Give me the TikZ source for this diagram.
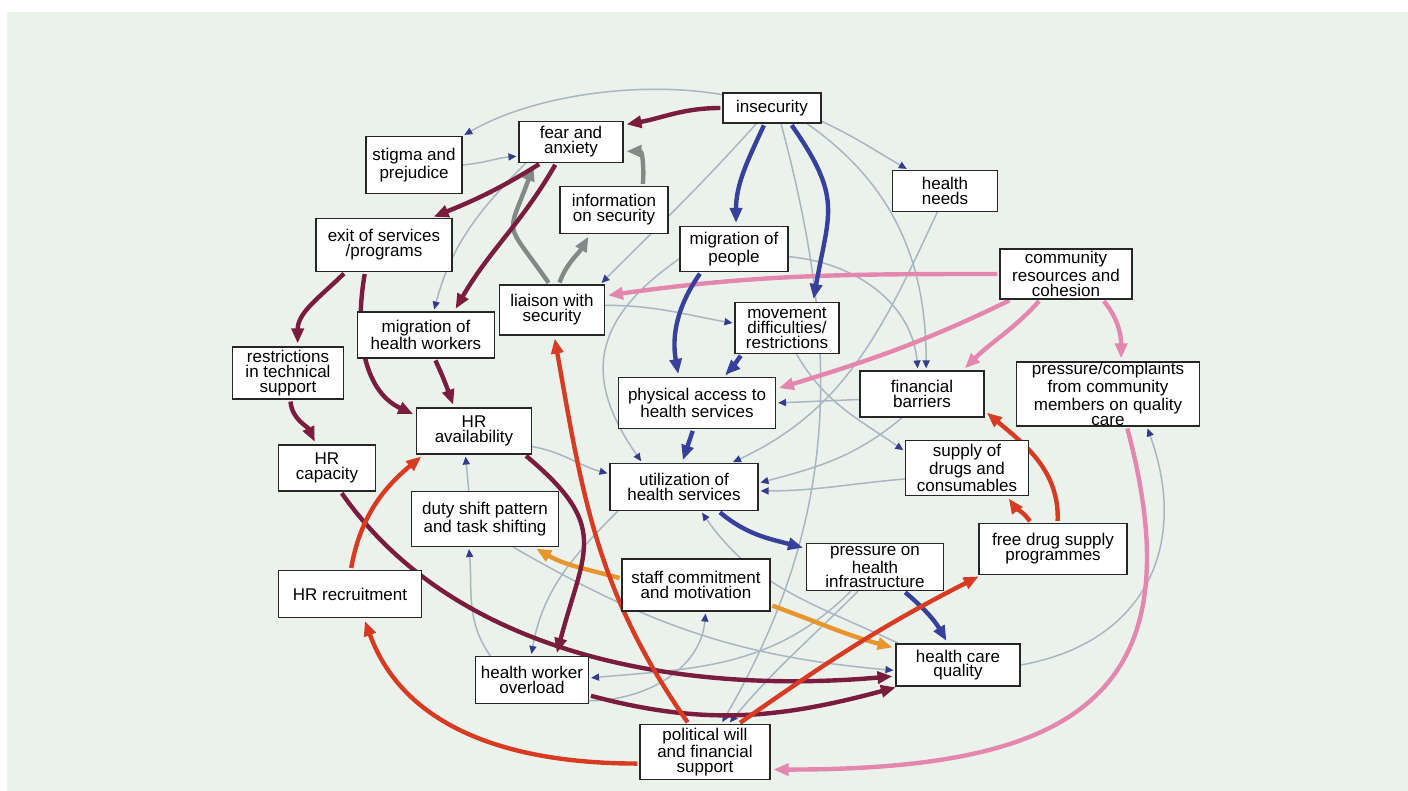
\documentclass[tikz,border=0pt]{standalone}
\usepackage{fontspec}
\setmainfont{Liberation Sans}
\usetikzlibrary{arrows.meta}
\definecolor{bggreen}{RGB}{235,242,236}
\definecolor{linkmaroon}{RGB}{122,28,62}
\definecolor{linkblue}{RGB}{55,65,155}
\definecolor{linkgray}{RGB}{128,138,134}
\definecolor{linkpink}{RGB}{228,135,175}
\definecolor{linkred}{RGB}{215,60,35}
\definecolor{linkorange}{RGB}{230,150,45}
\definecolor{linkthin}{RGB}{168,182,195}
\definecolor{linktip}{RGB}{50,60,140}

\pgfdeclarelayer{links}
\pgfsetlayers{links,main}

\tikzset{
  box/.style 2 args={draw=black!85, fill=white, line width=0.55pt, align=center,
    inner sep=0pt, minimum width=#1*0.5pt, minimum height=#2*0.5pt,
    font=\fontsize{8.5}{7.4}\selectfont},
  boldlink/.style={line width=2.2pt, shorten >=1.5pt, shorten <=1pt,
    -{Triangle[length=7.5pt,width=6pt]}},
  maroonlink/.style={boldlink, draw=linkmaroon},
  bluelink/.style={boldlink, draw=linkblue},
  graylink/.style={boldlink, draw=linkgray},
  pinklink/.style={boldlink, draw=linkpink},
  redlink/.style={boldlink, draw=linkred},
  orangelink/.style={boldlink, draw=linkorange},
  thinlink/.style={line width=0.75pt, draw=linkthin, shorten >=1pt,
    -{Triangle[length=4pt,width=3.5pt,color=linktip]}}
}

\begin{document}
\begin{tikzpicture}[x=0.5pt,y=-0.5pt]

\useasboundingbox (0,0) rectangle (1408,791);

% Factors
\node[box={98}{30}] (insec) at (772,108) {insecurity};
\node[box={104}{41}] (fear) at (571,142) {fear and\\anxiety};
\node[box={96}{57}] (stigma) at (414,165) {stigma and\\prejudice};
\node[box={108}{47}] (info) at (614,210) {information\\on security};
\node[box={105}{41}] (needs) at (945,191) {health\\needs};
\node[box={136}{53}] (exit) at (384,245) {exit of services\\/programs};
\node[box={108}{45}] (migp) at (734,249) {migration of\\people};
\node[box={132}{50}] (comm) at (1066,274) {community\\resources and\\cohesion};
\node[box={105}{50}] (liaison) at (552,310) {liaison with\\security};
\node[box={104}{51}] (move) at (787,328) {movement\\difficulties/\\restrictions};
\node[box={137}{46}] (mighw) at (426,335) {migration of\\health workers};
\node[box={111}{52}] (restr) at (288,373) {restrictions\\in technical\\support};
\node[box={124}{46}] (finb) at (922,394) {financial\\barriers};
\node[box={157}{51}] (access) at (697,403) {physical access to\\health services};
\node[box={183}{64}] (press) at (1108,394) {pressure/complaints\\from community\\members on quality\\care};
\node[box={115}{46}] (hravail) at (474,431) {HR\\availability};
\node[box={97}{46}] (hrcap) at (327,468) {HR\\capacity};
\node[box={123}{55}] (supply) at (967,468) {supply of\\drugs and\\consumables};
\node[box={148}{47}] (util) at (684,487) {utilization of\\health services};
\node[box={147}{55}] (duty) at (485,519) {duty shift pattern\\and task shifting};
\node[box={137}{47}] (infra) at (875,567) {pressure on\\health\\infrastructure};
\node[box={148}{51}] (free) at (1053,549) {free drug supply\\programmes};
\node[box={148}{52}] (staff) at (696,585) {staff commitment\\and motivation};
\node[box={143}{47}] (recruit) at (350,594) {HR recruitment};
\node[box={124}{42}] (quality) at (958,665) {health care\\quality};
\node[box={113}{47}] (overload) at (532,680) {health worker\\overload};
\node[box={130}{55}] (polit) at (705,752) {political will\\and financial\\support};

\begin{pgfonlayer}{links}
% Background
\fill[white] (0,0) rectangle (1408,791);
\fill[bggreen] (7,12) rectangle (1408,791);

% Thin links
\draw[thinlink] (insec.165) to[out=170,in=30,looseness=0.8] (stigma.north east);
\draw[thinlink] (stigma.east) to[out=5,in=185] (fear.195);
\draw[thinlink] (insec.345) to[out=-25,in=150] (needs.150);
\draw[thinlink] (insec.225) to[out=228,in=45] (liaison.28);
\draw[thinlink] (insec.336) to[out=-35,in=90] (finb.80);
\draw[thinlink] (insec.300) to[out=285,in=60] (polit.60);
\draw[thinlink] (needs.250) to[out=245,in=25] (util.27);
\draw[thinlink] (migp.352) to[out=-5,in=95] (finb.100);
\draw[thinlink] (move.290) to[out=-60,in=145] (supply.165);
\draw[thinlink] (migp.190) to[out=215,in=125,looseness=1.3] (util.150);
\draw[thinlink] (liaison.5) to[out=0,in=170] (move.175);
\draw[thinlink] (finb.185) -- (access.0);
\draw[thinlink] (finb.230) to[out=220,in=15] (util.3);
\draw[thinlink] (supply.190) to[out=185,in=0] (util.357);
\draw[thinlink] (hravail.345) to[out=-10,in=165] (util.170);
\draw[thinlink] (duty.120) -- (hravail.250);
\draw[thinlink] (overload.150) to[out=125,in=275] (duty.240);
\draw[thinlink] (util.200) to[out=225,in=80] (overload.92);
\draw[thinlink] (quality.160) to[out=155,in=305] (util.305);
\draw[thinlink] (duty.315) to[out=-30,in=175] (quality.185);
\draw[thinlink] (infra.225) to[out=225,in=5] (overload.2);
\draw[thinlink] (overload.340) to[out=0,in=265] (staff.290);
\draw[thinlink] (quality.0) to[out=10,in=290,looseness=1.2] (press.320);
\draw[thinlink] (fear.205) to[out=225,in=75] (mighw.72);
\draw[thinlink] (infra.235) to[out=225,in=50] (polit.50);

% Orange links
\draw[orangelink] (staff.175) to[out=165,in=330] (duty.330);
\draw[orangelink] (staff.345) to[out=-20,in=165] (quality.165);

% Gray links
\draw[graylink] (liaison.95) to[out=125,in=250,looseness=1.7] (fear.210);
\draw[graylink] (liaison.75) to[out=70,in=240] (info.225);
\draw[graylink] (info.40) to[out=85,in=0,looseness=1.2] (fear.350);

% Pink links
\draw[pinklink] (comm.west) to[out=180,in=8] (liaison.15);
\draw[pinklink] (comm.205) to[out=206,in=17] (access.10);
\draw[pinklink] (comm.225) to[out=228,in=45] (finb.30);
\draw[pinklink] (comm.325) to[out=-50,in=90] (press.68);
\draw[pinklink] (press.300) to[out=-75,in=0,looseness=1.5] (polit.345);

% Blue links
\draw[bluelink] (insec.245) to[out=245,in=90] (migp.85);
\draw[bluelink] (insec.320) to[out=-55,in=80,looseness=1.3] (move.45);
\draw[bluelink] (migp.215) to[out=235,in=100] (access.125);
\draw[bluelink] (move.210) to[out=235,in=45] (access.45);
\draw[bluelink] (access.262) -- (util.95);
\draw[bluelink] (util.325) to[out=-40,in=165] (infra.165);
\draw[bluelink] (infra.320) to[out=-40,in=120] (quality.115);

% Maroon links
\draw[maroonlink] (insec.west) to[out=180,in=10] (fear.18);
\draw[maroonlink] (fear.215) to[out=212,in=22] (exit.30);
\draw[maroonlink] (fear.235) to[out=240,in=60] (mighw.40);
\draw[maroonlink] (exit.215) to[out=225,in=90] (restr.70);
\draw[maroonlink] (exit.235) to[out=260,in=155] (hravail.165);
\draw[maroonlink] (mighw.290) to[out=295,in=110] (hravail.130);
\draw[maroonlink] (restr.275) to[out=275,in=115] (hrcap.115);
\draw[maroonlink] (hrcap.300) to[out=305,in=185,looseness=0.9] (quality.190);
\draw[maroonlink] (hravail.335) to[out=320,in=75,looseness=1.4] (overload.45);
\draw[maroonlink] (overload.345) to[out=345,in=195] (quality.200);

% Red links
\draw[redlink] (polit.120) to[out=125,in=280] (liaison.275);
\draw[redlink] (polit.190) to[out=180,in=290] (recruit.300);
\draw[redlink] (recruit.88) to[out=80,in=220] (hravail.205);
\draw[redlink] (polit.40) to[out=35,in=207] (free.200);
\draw[redlink] (free.80) to[out=88,in=320] (finb.345);
\draw[redlink] (free.130) to[out=125,in=305] (supply.325);
\end{pgfonlayer}

\end{tikzpicture}
\end{document}
